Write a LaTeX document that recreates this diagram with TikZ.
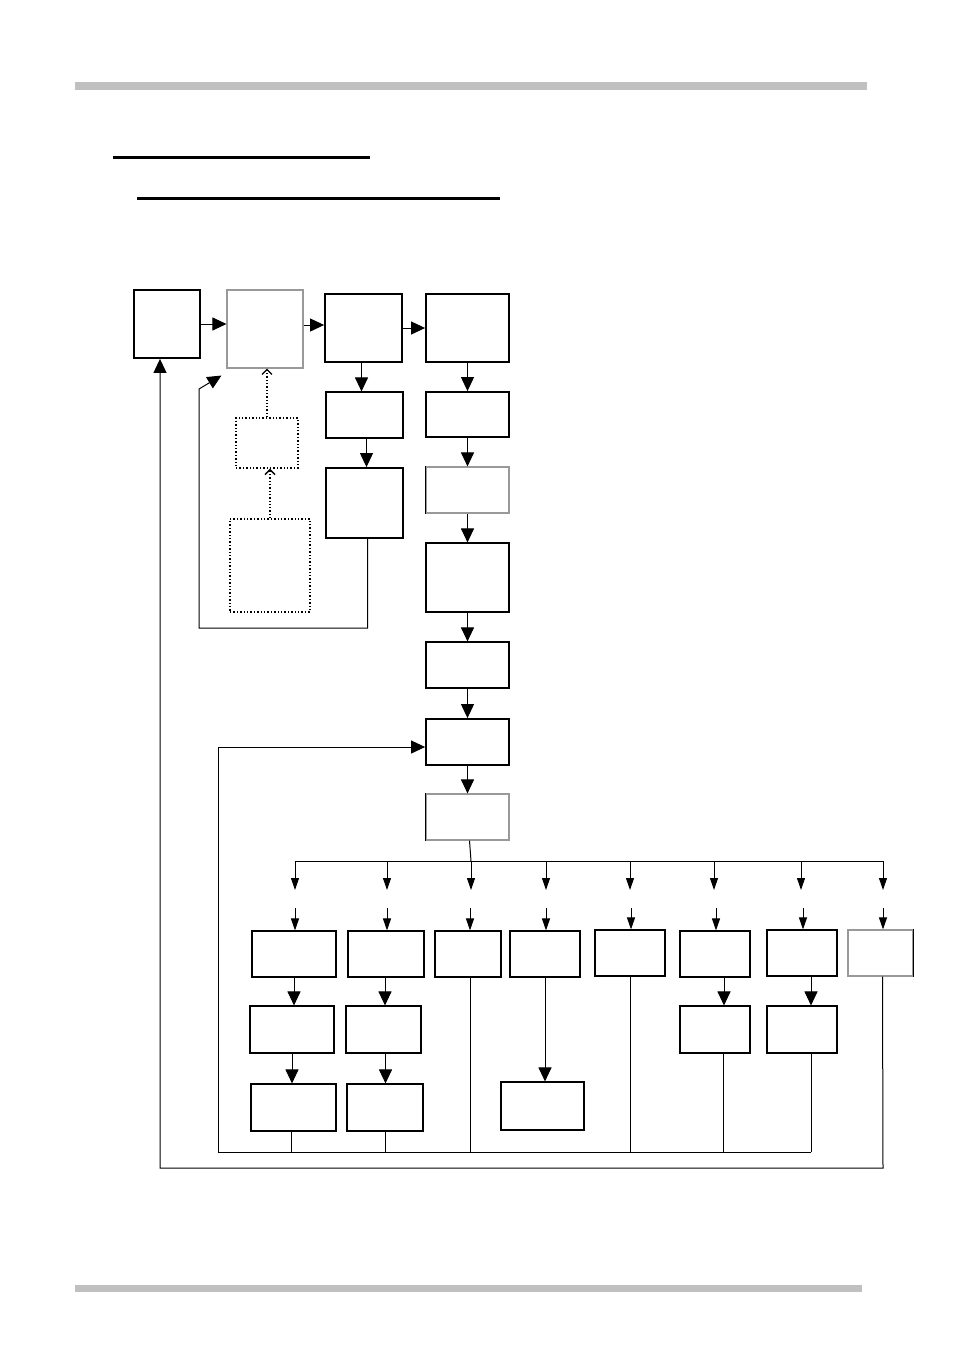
\documentclass[tikz,border=0pt]{standalone}
\usepackage{tikz}
\usetikzlibrary{arrows.meta,positioning,calc}
\definecolor{bargray}{RGB}{192,192,192}

\begin{document}
\begin{tikzpicture}[
  x=1pt, y=-1pt,
  box/.style={draw, line width=1.1pt, inner sep=0pt},
  heavy/.style={box, line width=1.8pt},
  faint/.style={box, draw=black!40},
  dotbox/.style={draw, dotted, line width=1.4pt, inner sep=0pt},
  arr/.style={-{Triangle[length=14pt,width=13pt]}, line width=1pt},
  smallarr/.style={-{Triangle[length=12pt,width=8pt]}, line width=1pt},
  dotarr/.style={-{Straight Barb[length=5pt,width=10pt]}, dotted, line width=1.3pt},
  wire/.style={line width=1pt}
]
  \useasboundingbox (0,0) rectangle (955,1350);

  % page rules
  \fill[bargray] (75,82) rectangle (867,90);
  \fill[bargray] (75,1285) rectangle (862,1292);
  \draw[line width=3pt] (113,157) -- (370,157);
  \draw[line width=3pt] (137,198) -- (500,198);

  % top chain
  \node[heavy, minimum width=66, minimum height=68] (a) at (167,324) {};
  \node[faint, minimum width=76, minimum height=78] (b) at (265,329) {};
  \node[heavy, minimum width=77, minimum height=68] (c1) at (363.5,328) {};
  \node[heavy, minimum width=83, minimum height=68] (d1) at (467.5,328) {};

  \node[box, minimum width=77, minimum height=46] (c2) at (364.5,415) {};
  \node[heavy, minimum width=77, minimum height=70] (c3) at (364.5,503) {};

  \node[heavy, minimum width=83, minimum height=45] (d2) at (467.5,414.5) {};
  \node[faint, minimum width=83, minimum height=46] (d3) at (467.5,490) {};
  \node[box, minimum width=83, minimum height=69] (d4) at (467.5,577.5) {};
  \node[box, minimum width=83, minimum height=46] (d5) at (467.5,665) {};
  \node[heavy, minimum width=83, minimum height=46] (d6) at (467.5,742) {};
  \node[faint, minimum width=83, minimum height=46] (d7) at (467.5,817) {};
  \draw[line width=1.8pt] (d3.north west) -- (d3.south west);
  \draw[line width=1.8pt] (d7.north west) -- (d7.south west);

  \node[dotbox, minimum width=62, minimum height=50] (e) at (267,443) {};
  \node[dotbox, minimum width=80, minimum height=93] (f) at (270,565.5) {};

  % first row of branches
  \node[box, minimum width=84, minimum height=46] (r1) at (294,954) {};
  \node[box, minimum width=76, minimum height=46] (r2) at (386,954) {};
  \node[box, minimum width=66, minimum height=46] (r3) at (468,954) {};
  \node[box, minimum width=70, minimum height=46] (r4) at (545,954) {};
  \node[box, minimum width=70, minimum height=46] (r5) at (630,953) {};
  \node[box, minimum width=70, minimum height=46] (r6) at (715,954) {};
  \node[box, minimum width=70, minimum height=46] (r7) at (802,953) {};
  \node[faint, minimum width=65, minimum height=46] (r8) at (880.5,953) {};
  \draw[line width=1.8pt] (r8.north east) -- (r8.south east);

  % second and third rows
  \node[box, minimum width=84, minimum height=47] (s1) at (292,1029.5) {};
  \node[box, minimum width=75, minimum height=47] (s2) at (383.5,1029.5) {};
  \node[box, minimum width=70, minimum height=47] (s6) at (715,1029.5) {};
  \node[box, minimum width=70, minimum height=47] (s7) at (802,1029.5) {};
  \node[box, minimum width=85, minimum height=47] (t1) at (293.5,1107.5) {};
  \node[box, minimum width=76, minimum height=47] (t2) at (385,1107.5) {};
  \node[box, minimum width=83, minimum height=48] (t4) at (542.5,1106) {};

  % arrows along the top
  \draw[arr] (a.east) -- (a.east -| b.west);
  \draw[arr] ([yshift=4]b.east) -- ([yshift=4]b.east -| c1.west);
  \draw[arr] (c1.east) -- (d1.west);
  \draw[arr] ([xshift=-2]c1.south) -- ([xshift=-2]c1.south |- c2.north);
  \draw[arr] ([xshift=2]c2.south) -- ([xshift=2]c2.south |- c3.north);
  \draw[arr] (d1.south) -- (d2.north);
  \draw[arr] (d2.south) -- (d3.north);
  \draw[arr] (d3.south) -- (d4.north);
  \draw[arr] (d4.south) -- (d5.north);
  \draw[arr] (d5.south) -- (d6.north);
  \draw[arr] (d6.south) -- (d7.north);

  \draw[dotarr] (f.north) -- (f.north |- e.south);
  \draw[dotarr] (e.north) -- (e.north |- b.south);

  % return to the second box
  \coordinate (ret1) at (199,628);
  \coordinate (ret1up) at (199,389);
  \draw[arr] ([xshift=3]c3.south) |- (ret1) -- (ret1up)
    -- ([shift={(-5,7)}]b.south west);

  % branch bus
  \coordinate (busL) at (295,861);
  \coordinate (busR) at (883,861);
  \draw[wire] (busL) -- (busR);
  \foreach \i/\x/\y in {1/295/295, 2/387/387, 3/471/470, 4/546/546,
                        5/630/631, 6/714/716, 7/801/803, 8/883/883} {
    \coordinate (top\i) at (\x,861);
    \coordinate (tip\i) at (\x,890);
    \coordinate (gap\i) at (\y,908);
    \draw[smallarr] (top\i) -- (tip\i);
    \draw[smallarr] (gap\i) -- (gap\i |- r\i.north);
  }
  \draw[wire] ([xshift=2]d7.south) -- (top3);

  % down the branches
  \draw[arr] (r1.south) -- (r1.south |- s1.north);
  \draw[arr] (s1.south) -- (s1.south |- t1.north);
  \draw[arr] ([xshift=-1]r2.south) -- ([xshift=-1]r2.south |- s2.north);
  \draw[arr] ([xshift=2]s2.south) -- ([xshift=2]s2.south |- t2.north);
  \draw[arr] (r4.south) -- (r4.south |- t4.north);
  \draw[arr] ([xshift=9]r6.south) -- ([xshift=9]r6.south |- s6.north);
  \draw[arr] ([xshift=9]r7.south) -- ([xshift=9]r7.south |- s7.north);

  % inner return
  \coordinate (inL) at (218,1152);
  \coordinate (inR) at (811,1152);
  \coordinate (inUp) at (218,747);
  \draw[wire] ([xshift=-2]t1.south) -- ([xshift=-2]t1.south |- inL);
  \draw[wire] (t2.south) -- (t2.south |- inL);
  \draw[wire] ([xshift=2]r3.south) -- ([xshift=2]r3.south |- inL);
  \draw[wire] (r5.south) -- (r5.south |- inL);
  \draw[wire] ([xshift=8]s6.south) -- ([xshift=8]s6.south |- inL);
  \draw[wire] ([xshift=9]s7.south) -- (inR);
  \draw[arr] (inR) -- (inL) -- (inUp) -- (inUp -| d6.west);

  % outer return
  \coordinate (outR) at (883,1168);
  \coordinate (outL) at (160,1168);
  \draw[arr] ([xshift=2]r8.south) -- (outR) -- (outL) -- (outL |- a.south);
\end{tikzpicture}
\end{document}
